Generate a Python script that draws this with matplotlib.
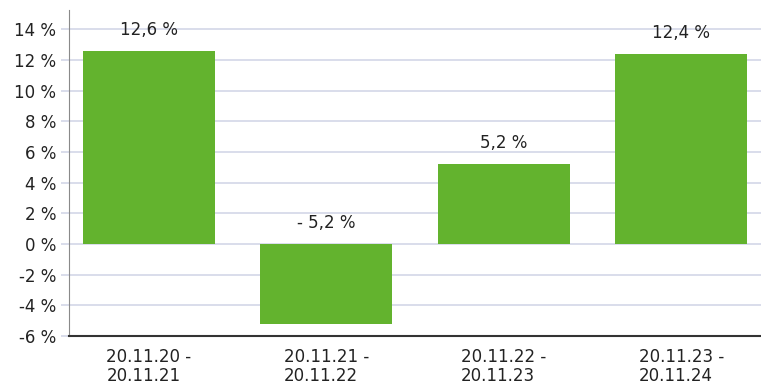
import matplotlib
matplotlib.use("Agg")
import matplotlib.pyplot as plt

periods = ["20.11.20 -\n20.11.21", "20.11.21 -\n20.11.22",
           "20.11.22 -\n20.11.23", "20.11.23 -\n20.11.24"]
returns = [12.6, -5.2, 5.2, 12.4]
value_labels = ["12,6 %", "- 5,2 %", "5,2 %", "12,4 %"]
yticks = [-6, -4, -2, 0, 2, 4, 6, 8, 10, 12, 14]

BAR = "#63b32e"
GRID = "#d3d7e8"
TXT = "#222222"

plt.rcParams["font.family"] = ["DejaVu Sans"]

fig = plt.figure(figsize=(7.61, 3.85), dpi=100)
ax = fig.add_axes([69 / 761, 49 / 385, 692 / 761, 326 / 385])

x = list(range(len(returns)))
ax.bar(x, returns, width=0.744, color=BAR, zorder=3)
for xi, v, lab in zip(x, returns, value_labels):
    ax.text(xi, max(v, 0) + 1.35, lab, ha="center", va="center",
            fontsize=12, color=TXT, zorder=4)

ax.set_xlim(-0.45, 3.45)
ax.set_ylim(-6, 15.25)
ax.set_yticks(yticks)
ax.set_yticklabels([f"{t} %" for t in yticks], fontsize=12, color=TXT)
ax.set_xticks(x)
ax.set_xticklabels(periods, fontsize=12, color=TXT, multialignment="left",
                   linespacing=1.05)
ax.tick_params(axis="x", length=0, pad=9)
ax.tick_params(axis="y", length=6, color=GRID, width=1.2, pad=3)
ax.grid(axis="y", color=GRID, linewidth=1.2, zorder=0)

for s in ("top", "right"):
    ax.spines[s].set_visible(False)
ax.spines["left"].set_color("#8a8a8a")
ax.spines["bottom"].set_color("#333333")
ax.spines["bottom"].set_linewidth(1.5)

fig.savefig("out.png", dpi=100)
